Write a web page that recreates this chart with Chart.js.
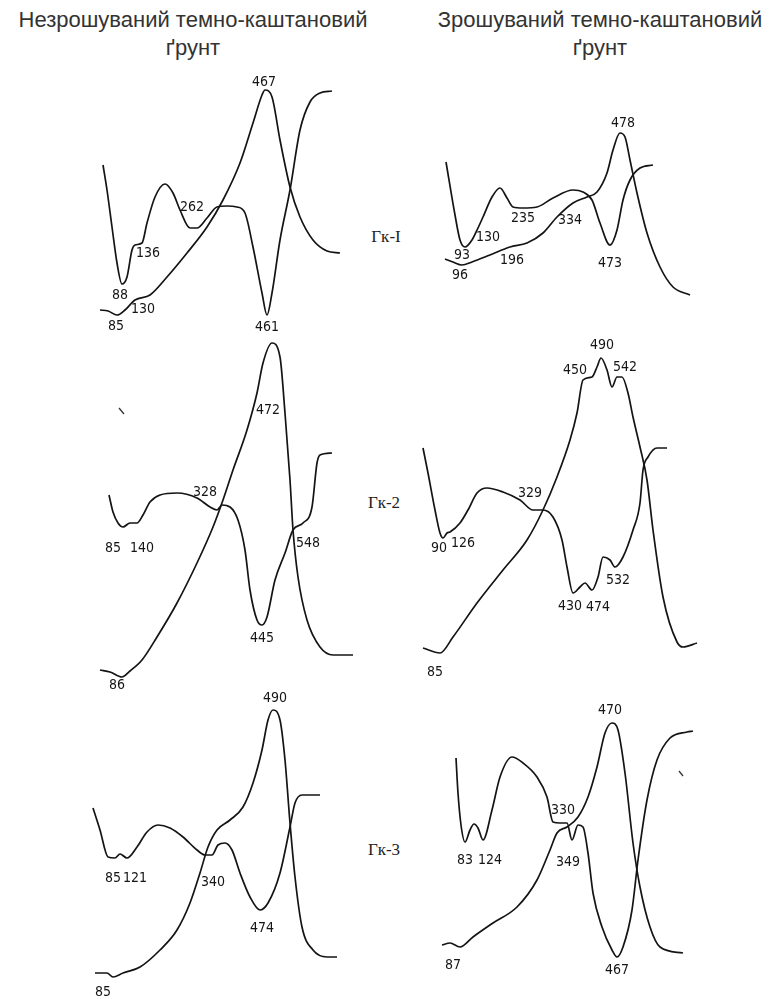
<!DOCTYPE html>
<html>
<head>
<meta charset="utf-8">
<script src="https://cdn.jsdelivr.net/npm/chart.js@4.4.1/dist/chart.umd.min.js"></script>
<style>
  body { margin: 0; background: #fff; width: 773px; height: 999px; position: relative; overflow: hidden;
         font-family: "Liberation Sans", Arial, sans-serif; }
  .title { position: absolute; top: 6px; width: 400px; text-align: center; font-size: 22px;
           line-height: 28px; color: #333; }
  .panel { position: absolute; }
  .gk { position: absolute; font-family: "Liberation Serif", "DejaVu Serif", serif; font-size: 17px;
        color: #222; transform: translate(-50%, -50%); white-space: nowrap; }
</style>
</head>
<body>

<div class="title" style="left:-7px">Незрошуваний темно-каштановий<br>ґрунт</div>
<div class="title" style="left:400px">Зрошуваний темно-каштановий<br>ґрунт</div>

<div class="gk" style="left:386px; top:237px">Гк-I</div>
<div class="gk" style="left:384px; top:503px">Гк-2</div>
<div class="gk" style="left:384px; top:850px">Гк-3</div>

<div id="panels"></div>

<script>
// curve readings, [x, y] in panel units (x to the right, y upward)
// Гк-1, non-irrigated
var curveA1 = [[23,175],[27,150],[32,113],[37,77],[42,56],[47,63],[52,90],[55,95],[62,97],[67,117],[75,143],
  [85,156],[93,147],[100,130],[110,112],[117,112],[127,122],[137,133],[147,134],[157,133],[165,127],[173,93],
  [182,47],[187,25],[192,47],[200,100],[210,150],[220,210],[230,238],[240,247],[252,249]];
var curveB1 = [[20,30],[28,29],[37,25],[45,30],[55,40],[70,45],[87,63],[107,87],[127,113],[143,140],[160,177],
  [173,217],[182,245],[185,250],[192,243],[200,200],[210,153],[220,123],[233,100],[247,89],[260,87]];
var labels1 = [['467',184,258],['88',40,45],['136',68,87],['262',112,133],['130',63,31],['85',36,14],['461',187,13]];

// Гк-1, irrigated
var curveA2 = [[36,178],[45,125],[50,100],[55,93],[62,100],[68,112],[73,123],[82,143],[90,152],[97,142],[103,133],
  [113,132],[127,133],[143,142],[163,150],[173,148],[182,140],[190,117],[200,95],[207,110],[213,140],[220,160],
  [230,172],[243,175]];
var curveB2 = [[35,81],[43,78],[52,75],[62,78],[80,85],[100,93],[117,97],[133,107],[147,123],[163,137],[177,143],
  [187,148],[197,167],[203,190],[210,207],[215,203],[220,180],[227,147],[237,107],[250,73],[263,53],[280,45]];
var labels2 = [['93',52,85],['130',78,103],['235',113,122],['334',160,120],['196',102,80],['96',50,65],
  ['473',200,77],['478',213,217]];

// Гк-2, non-irrigated
var curveA3 = [[29,205],[33,188],[38,177],[43,173],[50,177],[57,177],[63,185],[70,198],[80,205],[97,207],[117,202],
  [130,193],[137,190],[142,195],[150,193],[158,180],[165,150],[170,110],[177,80],[182,75],[187,83],[195,120],
  [205,147],[213,170],[223,177],[232,193],[237,237],[240,245],[252,247]];
var curveB3 = [[20,30],[30,28],[42,23],[50,29],[62,40],[77,63],[97,97],[117,137],[133,173],[143,200],[153,230],
  [167,270],[177,307],[183,337],[192,357],[200,343],[205,287],[210,220],[213,170],[218,123],[227,80],[240,53],
  [253,45],[273,45]];
var labels3 = [['85',33,152],['140',62,152],['328',125,208],['472',188,290],['548',228,157],['445',182,62],['86',37,15]];

// Гк-2, irrigated
var curveA4 = [[13,252],[18,227],[25,190],[30,167],[33,162],[37,167],[40,168],[50,177],[58,190],[67,207],[77,212],
  [93,208],[110,200],[123,190],[133,190],[143,183],[152,160],[157,133],[163,107],[170,113],[175,117],[182,110],
  [188,123],[193,143],[200,140],[205,133],[213,143],[223,170],[230,197],[233,230],[238,243],[247,252],[257,252]];
var curveB4 = [[13,52],[30,47],[43,63],[67,97],[93,130],[117,160],[133,190],[147,223],[160,260],[167,287],[173,320],
  [182,323],[187,333],[191,342],[197,330],[202,313],[207,323],[212,323],[218,307],[223,283],[230,253],[237,220],
  [243,170],[253,103],[267,58],[273,53],[287,57]];
var labels4 = [['90',29,152],['126',53,157],['329',120,207],['450',165,330],['490',192,355],['542',215,333],
  ['532',208,120],['430',160,94],['474',188,93],['85',25,28]];

// Гк-3, non-irrigated
var curveA5 = [[13,192],[20,170],[28,143],[35,142],[40,146],[47,142],[57,153],[67,168],[78,175],[90,172],[103,163],
  [117,150],[125,145],[132,145],[138,155],[145,157],[152,150],[160,127],[170,103],[180,90],[188,97],[200,127],
  [210,173],[215,197],[222,205],[240,205]];
var curveB5 = [[15,27],[27,27],[33,23],[43,27],[60,33],[80,50],[97,70],[110,97],[120,127],[128,153],[137,170],
  [150,180],[163,193],[173,217],[182,250],[188,280],[193,290],[200,280],[205,240],[210,177],[215,123],[222,73],
  [233,50],[247,43],[257,43]];
var labels5 = [['85',33,122],['121',55,122],['340',133,118],['474',182,72],['490',195,302],['85',23,8]];

// Гк-3, irrigated
var curveA6 = [[46,242],[48,207],[51,175],[55,158],[60,170],[64,176],[68,172],[73,160],[82,190],[90,223],[102,243],
  [113,237],[127,223],[137,203],[143,178],[150,177],[157,177],[162,160],[168,175],[173,173],[178,147],[183,107],
  [192,73],[202,50],[207,43],[213,53],[222,90],[228,140],[237,200],[247,240],[260,262],[277,268],[283,269]];
var curveB6 = [[32,55],[40,57],[50,53],[63,63],[83,77],[107,93],[127,120],[140,150],[147,167],[157,173],[168,183],
  [178,203],[187,233],[195,267],[202,277],[208,270],[215,227],[223,157],[230,113],[240,73],[250,53],[273,47]];
var labels6 = [['83',55,140],['124',80,140],['330',153,190],['349',158,138],['470',200,290],['467',207,30],['87',43,35]];

// small stray pen marks
var marks3 = [[39,292],[44,286]];
var marks6 = [[269,229],[273,224]];

var panels = [
  { left: 80,  top: 0,   w: 300, h: 340, curves: [curveA1, curveB1], labels: labels1, marks: null },
  { left: 410, top: 0,   w: 300, h: 340, curves: [curveA2, curveB2], labels: labels2, marks: null },
  { left: 80,  top: 320, w: 300, h: 380, curves: [curveA3, curveB3], labels: labels3, marks: marks3 },
  { left: 410, top: 320, w: 300, h: 380, curves: [curveA4, curveB4], labels: labels4, marks: null },
  { left: 80,  top: 660, w: 300, h: 340, curves: [curveA5, curveB5], labels: labels5, marks: null },
  { left: 410, top: 660, w: 300, h: 340, curves: [curveA6, curveB6], labels: labels6, marks: marks6 }
];

function toPoints(arr) {
  return arr.map(function (p) { return { x: p[0], y: p[1] }; });
}

// writes the peak temperatures next to the curves
var peakLabels = {
  id: 'peakLabels',
  afterDatasetsDraw: function (chart, args, opts) {
    var ctx = chart.ctx, xs = chart.scales.x, ys = chart.scales.y;
    ctx.save();
    ctx.fillStyle = '#151515';
    ctx.font = '14px "Liberation Sans Narrow", "DejaVu Sans Condensed", sans-serif';
    ctx.textAlign = 'center';
    ctx.textBaseline = 'middle';
    opts.items.forEach(function (l) {
      ctx.fillText(l[0], xs.getPixelForValue(l[1]), ys.getPixelForValue(l[2]));
    });
    ctx.restore();
  }
};

var holder = document.getElementById('panels');

panels.forEach(function (p) {
  var div = document.createElement('div');
  div.className = 'panel';
  div.style.left = p.left + 'px';
  div.style.top = p.top + 'px';
  var canvas = document.createElement('canvas');
  canvas.width = p.w;
  canvas.height = p.h;
  canvas.style.width = p.w + 'px';
  canvas.style.height = p.h + 'px';
  div.appendChild(canvas);
  holder.appendChild(div);

  var datasets = p.curves.map(function (c) {
    return {
      data: toPoints(c),
      showLine: true,
      borderColor: '#141414',
      borderWidth: 1.7,
      pointRadius: 0,
      cubicInterpolationMode: 'monotone',
      clip: false
    };
  });
  if (p.marks) {
    datasets.push({ data: toPoints(p.marks), showLine: true, borderColor: '#333', borderWidth: 1.3,
                    pointRadius: 0, clip: false });
  }

  new Chart(canvas, {
    type: 'scatter',
    data: { datasets: datasets },
    options: {
      responsive: false,
      animation: false,
      devicePixelRatio: 1,
      layout: { padding: 0 },
      scales: {
        x: { type: 'linear', min: 0, max: p.w, display: false },
        y: { type: 'linear', min: 0, max: p.h, display: false }
      },
      plugins: {
        legend: { display: false },
        tooltip: { enabled: false },
        peakLabels: { items: p.labels }
      }
    },
    plugins: [peakLabels]
  });
});
</script>
</body>
</html>
